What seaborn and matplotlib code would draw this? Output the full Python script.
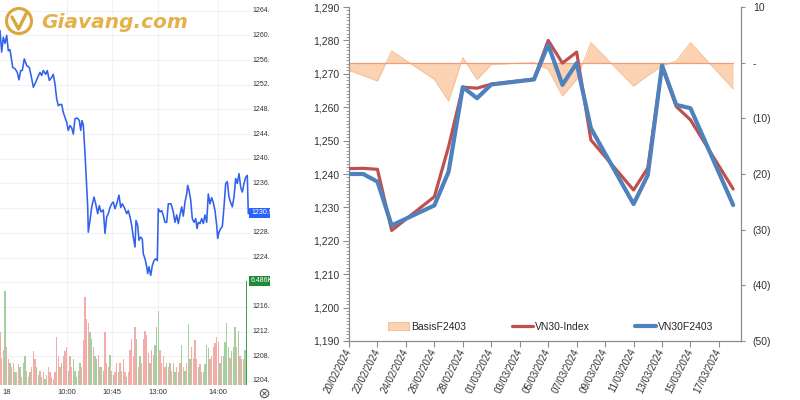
import numpy as np
import pandas as pd
import matplotlib
matplotlib.use('Agg')
import matplotlib.pyplot as plt
from matplotlib.patches import Circle, Patch
from matplotlib.lines import Line2D
from matplotlib.ticker import MultipleLocator, FuncFormatter, FixedLocator
import matplotlib.dates as mdates
import seaborn as sns

sns.set_style('white')
plt.rcParams['font.family'] = ['Liberation Sans', 'DejaVu Sans']

# --- daily chart (right) ---
trade_dates = ['20/02/2024', '21/02/2024', '22/02/2024', '23/02/2024', '26/02/2024',
               '27/02/2024', '28/02/2024', '29/02/2024', '01/03/2024', '04/03/2024',
               '05/03/2024', '06/03/2024', '07/03/2024', '08/03/2024', '11/03/2024',
               '12/03/2024', '13/03/2024', '14/03/2024', '15/03/2024', '18/03/2024']
vn30_index = [1241.6, 1241.7, 1241.4, 1223.1, 1233.2, 1248.2, 1266.0, 1265.7, 1266.9, 1268.4,
              1280.0, 1273.2, 1276.5, 1250.2, 1235.2, 1241.8, 1272.2, 1260.2, 1256.2, 1235.5]
vn30f2403 = [1240.0, 1240.0, 1237.7, 1224.6, 1230.6, 1240.7, 1266.0, 1262.7, 1266.8, 1268.3,
             1278.7, 1266.7, 1273.2, 1253.7, 1231.0, 1239.7, 1272.5, 1260.7, 1259.7, 1230.7]
basis_f2403 = [-1.4, -2.3, -3.3, 2.1, -3.0, -6.9, 0.9, -3.0, -0.3, 0.0,
               -1.2, -6.0, -3.0, 3.6, -4.2, -2.3, -0.6, 0.3, 3.6, -4.7]
series_names = ['BasisF2403', 'VN30-Index', 'VN30F2403']

# --- intraday chart (left) ---
intraday_minute = [0, 1.7, 3.3, 5, 6.7, 8.3, 10, 12.7, 15, 17.3, 19, 20.7, 22.3, 24.3, 26.7, 29.3,
                   31.7, 33.3, 35.7, 37.7, 40, 41.7, 43.3, 45.7, 47.3, 49.3, 51.7, 53.3, 55, 56.7,
                   58.3, 60, 61.7, 63.3, 65, 66.7, 68.3, 70, 71.7, 73.3, 75, 77.3, 79.3, 80.7, 82,
                   83.3, 85, 86.7, 87.7, 88.3, 90, 91.7, 94, 95.7, 97.7, 99.3, 101, 103.3, 105,
                   106.7, 108.3, 110, 111.7, 113.3, 115, 116.7, 119, 120.7, 122.3, 124.3, 126.7,
                   128.3, 130, 131.7, 133.3, 135, 136, 137.7, 139, 140.7, 142.3, 143.3, 145, 146.7,
                   147.7, 149, 150.7, 152.3, 154, 155.7, 157.3, 158.3, 160, 161.7, 163.3, 165,
                   166.7, 168.3, 171, 173.3, 175, 176.7, 178.3, 180, 181.7, 183.3, 185, 186.7,
                   187.7, 189, 190.7, 192.3, 194, 195.7, 197, 198.3, 200, 201.7, 203.3, 205, 206.7,
                   208.3, 210, 211.7, 213.3, 215, 216.7, 217.7, 219, 220.7, 222.3, 224, 225.7,
                   227.3, 229, 230.7, 232.3, 234, 235.7, 237.3, 239, 240.7, 242.3, 244, 245.7,
                   247.3, 248.3]
intraday_price = [1260.8, 1257.3, 1259.7, 1258.7, 1260.0, 1257.5, 1257.7, 1254.8, 1254.6, 1254.0,
                  1252.8, 1254.3, 1254.3, 1256.2, 1255.1, 1254.8, 1253.0, 1251.6, 1252.4, 1253.2,
                  1254.0, 1253.5, 1254.3, 1253.7, 1254.3, 1252.7, 1253.2, 1253.7, 1252.1, 1249.7,
                  1248.6, 1248.8, 1248.8, 1247.5, 1246.7, 1245.9, 1244.6, 1245.4, 1245.0, 1244.0,
                  1246.5, 1246.6, 1246.2, 1244.6, 1246.2, 1245.5, 1240.9, 1235.4, 1232.2, 1228.1,
                  1230.0, 1232.2, 1233.8, 1232.7, 1231.1, 1232.4, 1231.4, 1231.7, 1227.9, 1230.6,
                  1231.1, 1232.1, 1232.7, 1233.0, 1231.9, 1232.7, 1234.1, 1232.1, 1232.7, 1232.1,
                  1231.1, 1231.6, 1230.6, 1229.2, 1227.3, 1225.7, 1230.0, 1229.2, 1226.8, 1227.3,
                  1227.0, 1224.6, 1223.8, 1222.5, 1221.4, 1222.5, 1221.1, 1222.7, 1223.5, 1223.8,
                  1223.5, 1231.9, 1231.4, 1231.6, 1230.8, 1229.7, 1229.7, 1232.7, 1232.7, 1231.4,
                  1229.7, 1230.9, 1229.5, 1230.9, 1232.2, 1230.7, 1233.0, 1234.3, 1235.7, 1234.9,
                  1233.3, 1230.3, 1229.7, 1230.3, 1228.7, 1229.7, 1229.5, 1230.3, 1229.5, 1230.9,
                  1229.7, 1234.3, 1232.7, 1233.7, 1232.9, 1231.6, 1229.2, 1227.1, 1228.1, 1228.7,
                  1229.0, 1232.2, 1236.0, 1236.3, 1233.8, 1232.9, 1232.2, 1233.8, 1236.8, 1236.0,
                  1237.6, 1235.4, 1234.6, 1236.0, 1237.0, 1237.3, 1231.1]
volume_k = [3.3, 1.7, 2.2, 5.9, 2.4, 1.6, 1.4, 1.1, 1.4, 0.8, 0.8, 1.3, 1.1, 0.5, 1.4, 1.8, 0.9,
            0.5, 0.8, 1.1, 2.1, 1.6, 1.1, 0.6, 0.9, 0.5, 0.8, 0.4, 0.6, 1.1, 0.8, 0.5, 0.4, 0.8,
            3.0, 1.8, 1.1, 1.4, 1.8, 2.1, 2.4, 0.9, 1.8, 1.1, 1.6, 0.9, 0.5, 0.9, 1.4, 1.1, 2.8,
            5.5, 4.1, 3.9, 3.3, 2.9, 2.4, 1.8, 1.6, 1.9, 1.1, 1.1, 0.9, 3.3, 1.4, 1.1, 1.9, 0.9,
            0.6, 0.8, 1.4, 0.8, 1.4, 0.9, 1.6, 0.8, 0.5, 0.8, 2.2, 2.9, 1.8, 3.6, 2.9, 1.1, 1.8,
            1.4, 2.9, 3.4, 3.1, 2.0, 1.4, 2.2, 1.9, 2.5, 3.6, 4.6, 2.2, 1.4, 1.8,
            1.1, 1.4, 1.1, 1.4, 0.9, 1.4, 0.8, 1.1, 0.8, 1.4, 2.5, 1.1, 0.9, 1.4, 3.8, 1.6, 2.4,
            1.7, 2.8, 1.6, 1.1, 1.3, 0.8, 0.8, 1.3, 2.5, 2.3, 1.6, 1.8, 2.4, 2.6, 3.0, 2.7, 1.4,
            1.8, 1.8, 2.7, 3.9, 2.4, 1.7, 2.1, 2.4, 3.6, 2.4, 3.4, 1.8, 1.6, 1.6, 2.2, 6.486]
volume_dir = ("d d d u d d u d d u  d d u d u u d d u d  d d u u d u d u d d  "
              "d u d d d d d u d d  d u d d u u u d u d  d "
              "d d d u u d u u d u  d u d d d u d u d d  u d u d d u d d d d  "
              "d u d u d d d d d u  d d u u u d d d "
              "d u d u d d u d u d  u d u d u u d d d d  u d u d u u u d d d  "
              "d d d u d u u u u d  u u u d u d u d u u").split()
# 1232 and 1220 sit under the last-price / last-volume tags
price_ticks = [p for p in range(1204, 1268, 4) if p not in (1232, 1220)]
time_ticks = [7, 67, 112, 158, 218]
time_labels = ['18', '10:00', '10:45', '13:00', '14:00']
last_price = 1230.90
last_volume = '6.486K'

fig = plt.figure(figsize=(8, 4), dpi=100)

# ---------- left: intraday ----------
px_per_pt = 6.17          # vertical pixels per index point
def price_at(ypx):
    return 1264 - (ypx - 10.7) / px_per_pt

ax_v = fig.add_axes([0, 0, 270 / 800, 1])
ax_l = fig.add_axes([0, 0, 270 / 800, 1])
for a in (ax_v, ax_l):
    a.set_xlim(0, 270)
    a.axis('off')
ax_l.set_facecolor('none')
ax_l.set_ylim(price_at(400), price_at(0))
ax_v.set_ylim(-15 / 16, 385 / 16)

for p in range(1204, 1268, 4):
    ax_v.axhline((385 - 10.7 - (1264 - p) * px_per_pt) / 16, xmax=250 / 270,
                 color='#eef1f7', lw=0.8, zorder=0)
for t in time_ticks[1:]:
    ax_v.axvline(t, color='#f1f3f8', lw=0.8, zorder=0)

n = min(len(volume_k), len(volume_dir))
vol_x = np.arange(n) * 5 / 3
vol_colors = ['#a4d0a0' if d == 'u' else '#f5aba8' for d in volume_dir[:n]]
vol_colors[-1] = '#3fa34d'
ax_v.bar(vol_x, volume_k[:n], width=1.4, color=vol_colors, linewidth=0)

sns.lineplot(x=intraday_minute, y=intraday_price, ax=ax_l, color='#3162ec', lw=1.15,
             estimator=None, errorbar=None)
ax_l.set_xlabel('')
ax_l.set_ylabel('')

for p in price_ticks:
    ax_l.text(252, p, f'{p:.2f}', ha='left', va='center', fontsize=5, color='#333333',
              clip_on=True)
for t, lab in zip(time_ticks, time_labels):
    ax_l.text(t, price_at(393), lab, ha='center', va='center', fontsize=5.5, color='#333333')
ax_l.text(251, price_at(213), f'{last_price:.2f}', ha='left', va='center', fontsize=5,
          color='white', clip_on=True,
          bbox=dict(boxstyle='square,pad=0.25', fc='#2962ff', ec='none'))
ax_l.text(251, price_at(281), last_volume, ha='left', va='center', fontsize=5,
          color='white', clip_on=True,
          bbox=dict(boxstyle='square,pad=0.25', fc='#1f8a35', ec='none'))
ax_l.plot(264, price_at(393), marker='o', ms=6, mfc='none', mec='#555555', mew=0.8, clip_on=False)
ax_l.plot(264, price_at(393), marker='x', ms=2.5, mec='#555555', mew=0.7, clip_on=False)

# logo
ax_logo = fig.add_axes([0, 0, 1, 1], zorder=5)
ax_logo.set_xlim(0, 800)
ax_logo.set_ylim(400, 0)
ax_logo.axis('off')
ax_logo.add_patch(Circle((19, 21), 12.5, fill=False, ec='#d9a73a', lw=2.2))
ax_logo.plot([12, 18.5, 27], [17, 29, 12], color='#d9a73a', lw=2.4, solid_capstyle='round')
ax_logo.text(41, 22, 'Giavang.com', fontsize=14.5, fontweight='bold', style='italic',
             color='#e4b14a', va='center', ha='left', family='DejaVu Sans')

# ---------- right: VN30 vs futures ----------
dates = pd.to_datetime(trade_dates, format='%d/%m/%Y')
ax_b = fig.add_axes([349 / 800, 59 / 400, 392 / 800, 334 / 400])
ax_i = ax_b.twinx()

ax_b.fill_between(dates, basis_f2403, 0, color='#fbd3b3', lw=0)
ax_b.plot(dates, basis_f2403, color='#f6bd98', lw=0.7)
ax_b.plot([dates[0], dates[-1]], [0, 0], color='#f09c78', lw=0.9)

sns.lineplot(x=dates, y=vn30_index, ax=ax_i, color='#c0504d', lw=2.3, estimator=None, errorbar=None)
sns.lineplot(x=dates, y=vn30f2403, ax=ax_i, color='#4f81bd', lw=3.0, estimator=None, errorbar=None)

x0 = pd.Timestamp('2024-02-20')
ax_b.set_xlim(x0, x0 + pd.Timedelta(days=27.55))
ax_b.set_ylim(-50, 10)
ax_i.set_ylim(1190, 1290)

ax_b.yaxis.set_ticks_position('right')
ax_i.yaxis.set_ticks_position('left')
ax_b.set_yticks(range(-50, 11, 10))
ax_b.yaxis.set_major_formatter(FuncFormatter(
    lambda v, _: '-' if v == 0 else (f'({abs(v):.0f})' if v < 0 else f'{v:.0f}')))
ax_i.set_yticks(range(1190, 1291, 10))
ax_i.yaxis.set_major_formatter(FuncFormatter(lambda v, _: f'{v:,.0f}'))
ax_i.yaxis.set_minor_locator(MultipleLocator(1))

tick_days = pd.date_range('2024-02-20', '2024-03-17', freq='2D')
ax_b.xaxis.set_major_locator(FixedLocator(mdates.date2num(tick_days)))
ax_b.xaxis.set_major_formatter(mdates.DateFormatter('%d/%m/%Y'))
for lab in ax_b.get_xticklabels():
    lab.set_rotation(63)
    lab.set_ha('right')
    lab.set_va('center')
    lab.set_rotation_mode('anchor')

axis_grey = '#8c8c8c'
ax_b.tick_params(axis='x', direction='out', length=4, width=0.8, color=axis_grey,
                 labelsize=7, labelcolor='#333333', pad=2, bottom=True)
ax_b.tick_params(axis='y', direction='out', length=3, width=0.8, color=axis_grey,
                 labelsize=7.5, labelcolor='#333333', pad=5.5, right=True, left=False)
ax_i.tick_params(axis='y', which='major', direction='out', length=4, width=0.8, color=axis_grey,
                 labelsize=7.5, labelcolor='#333333', pad=3, left=True, right=False)
ax_i.tick_params(axis='y', which='minor', direction='out', length=2, width=0.6, color=axis_grey,
                 left=True, right=False)

for side in ['left', 'right', 'bottom']:
    ax_b.spines[side].set_visible(True)
    ax_b.spines[side].set_color(axis_grey)
    ax_b.spines[side].set_linewidth(0.9)
ax_b.spines['top'].set_visible(False)
for s in ax_i.spines.values():
    s.set_visible(False)
ax_i.set_xlabel('')
ax_i.set_ylabel('')
ax_b.set_xlabel('')

handles = [Patch(fc='#fbd3b3', ec='#f6bd98', lw=0.7),
           Line2D([], [], color='#c0504d', lw=2.3),
           Line2D([], [], color='#4f81bd', lw=3.0)]
ax_i.legend(handles, series_names, loc='center', bbox_to_anchor=(0.515, 14 / 334), ncol=3,
            frameon=False, fontsize=7.5, handlelength=2.0, handleheight=0.8,
            handletextpad=0.2, columnspacing=4.4)

fig.savefig('out.png', dpi=100)
